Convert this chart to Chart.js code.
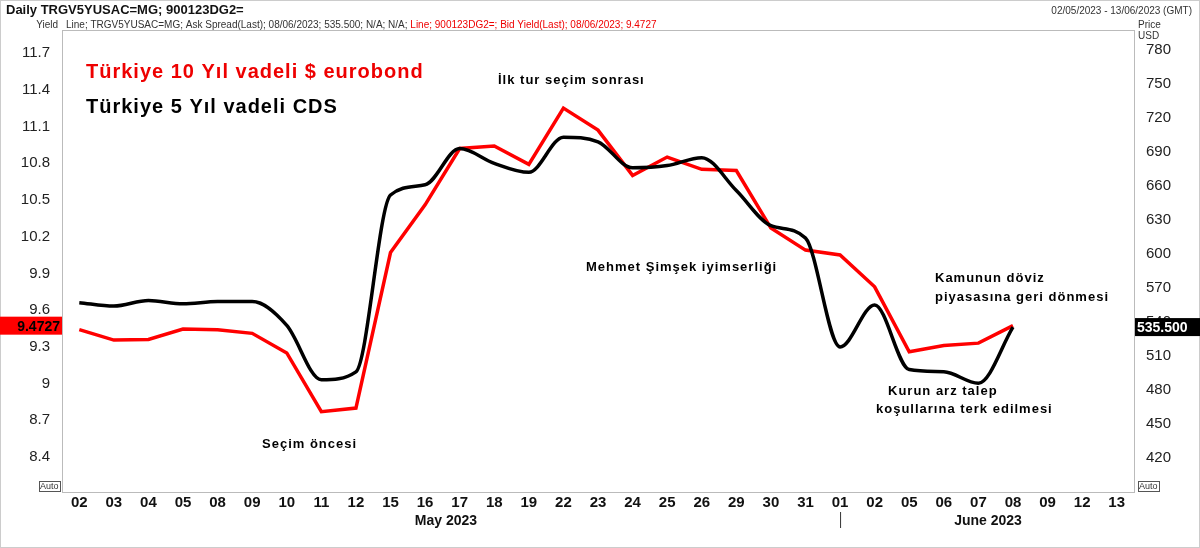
<!DOCTYPE html>
<html>
<head>
<meta charset="utf-8">
<script src="https://cdn.jsdelivr.net/npm/chart.js@4"></script>
<style>
  body { margin: 0; background: #fff; }
  #wrap { width: 1200px; height: 548px; position: relative; }
</style>
</head>
<body>
<div id="wrap"><canvas id="c" width="1200" height="548"></canvas></div>
<script>
const days = ['02','03','04','05','08','09','10','11','12','15','16','17','18','19','22','23','24','25','26','29','30','31',
              '01','02','05','06','07','08','09','12','13'];
const bondYield = [9.44,9.355,9.36,9.445,9.44,9.41,9.25,8.77,8.80,10.07,10.46,10.92,10.94,10.79,11.25,11.07,10.70,10.85,10.75,10.74,10.27,10.09,
                   10.05,9.79,9.26,9.31,9.33,9.4727,null,null,null];
const cdsSpread = [557,554,559,556,558,558,537,489,496,652,661,693,680,672,703,699,676,678,685,656,625,614,
                   518,555,498,496,486,535.5,null,null,null];
const yieldTicks = [8.4,8.7,9,9.3,9.6,9.9,10.2,10.5,10.8,11.1,11.4,11.7];
const priceTicks = [420,450,480,510,540,570,600,630,660,690,720,750,780];

const notes = [
  { text: 'İlk tur seçim sonrası', x: 498, y: 80 },
  { text: 'Mehmet Şimşek iyimserliği', x: 586, y: 267 },
  { text: 'Seçim öncesi', x: 262, y: 444 },
  { text: 'Kamunun döviz', x: 935, y: 278 },
  { text: 'piyasasına geri dönmesi', x: 935, y: 297 },
  { text: 'Kurun arz talep', x: 888, y: 391 },
  { text: 'koşullarına terk edilmesi', x: 876, y: 409 }
];

const overlay = {
  id: 'overlay',
  afterDraw(chart) {
    const ctx = chart.ctx, a = chart.chartArea;
    ctx.save();
    // frame
    ctx.strokeStyle = '#bbb'; ctx.lineWidth = 1;
    ctx.strokeRect(a.left + 0.5, a.top + 0.5, a.right - a.left, a.bottom - a.top);
    ctx.strokeStyle = '#ccc';
    ctx.strokeRect(0.5, 0.5, 1199, 547);
    // header
    ctx.fillStyle = '#111'; ctx.textBaseline = 'middle'; ctx.textAlign = 'left';
    ctx.font = 'bold 13px Arial, "Liberation Sans"';
    ctx.fillText('Daily TRGV5YUSAC=MG; 900123DG2=', 6, 10);
    ctx.font = '10px Arial, "Liberation Sans"';
    ctx.fillStyle = '#333';
    ctx.textAlign = 'right';
    ctx.fillText('02/05/2023 - 13/06/2023 (GMT)', 1192, 11);
    ctx.fillText('Yield', 58, 25);
    ctx.textAlign = 'left';
    const grey = 'Line; TRGV5YUSAC=MG; Ask Spread(Last); 08/06/2023; 535.500; N/A; N/A; ';
    ctx.fillText(grey, 66, 25);
    const w = ctx.measureText(grey).width;
    ctx.fillStyle = '#e00';
    ctx.fillText('Line; 900123DG2=; Bid Yield(Last); 08/06/2023; 9.4727', 66 + w, 25);
    ctx.fillStyle = '#333';
    ctx.fillText('Price', 1138, 25);
    ctx.fillText('USD', 1138, 36);
    // titles
    ctx.font = 'bold 20px Arial, "Liberation Sans"';
    if ('letterSpacing' in ctx) ctx.letterSpacing = '1px';
    ctx.fillStyle = '#e00';
    ctx.fillText('Türkiye 10 Yıl vadeli $ eurobond', 86, 72);
    ctx.fillStyle = '#000';
    ctx.fillText('Türkiye 5 Yıl vadeli CDS', 86, 107);
    // annotations
    ctx.font = 'bold 13px Arial, "Liberation Sans"';
    notes.forEach(n => ctx.fillText(n.text, n.x, n.y));
    if ('letterSpacing' in ctx) ctx.letterSpacing = '0px';
    // last value boxes
    const yl = chart.scales.y.getPixelForValue(9.4727);
    ctx.fillStyle = '#f00';
    ctx.fillRect(0, yl - 9, a.left, 18);
    ctx.fillStyle = '#000'; ctx.font = 'bold 14px Arial, "Liberation Sans"'; ctx.textAlign = 'right';
    ctx.fillText('9.4727', a.left - 2, yl + 1);
    const yr = chart.scales.y1.getPixelForValue(535.5);
    ctx.fillStyle = '#000';
    ctx.fillRect(a.right + 1, yr - 9, 66, 18);
    ctx.fillStyle = '#fff'; ctx.textAlign = 'left';
    ctx.fillText('535.500', a.right + 3, yr + 1);
    // Auto boxes
    ctx.font = '9px Arial, "Liberation Sans"'; ctx.fillStyle = '#333'; ctx.strokeStyle = '#555';
    ctx.strokeRect(39.5, 481.5, 21, 10); ctx.fillText('Auto', 40, 487);
    ctx.strokeRect(1138.5, 481.5, 21, 10); ctx.fillText('Auto', 1139, 487);
    // months
    ctx.font = 'bold 14px Arial, "Liberation Sans"'; ctx.fillStyle = '#111'; ctx.textAlign = 'center';
    ctx.fillText('May 2023', 446, 521);
    ctx.fillText('June 2023', 988, 521);
    const xs = chart.scales.x.getPixelForValue(22);
    ctx.strokeStyle = '#333';
    ctx.beginPath(); ctx.moveTo(xs + 0.5, 512); ctx.lineTo(xs + 0.5, 528); ctx.stroke();
    ctx.restore();
  }
};

new Chart(document.getElementById('c'), {
  type: 'line',
  data: {
    labels: days,
    datasets: [
      { label: 'CDS', data: cdsSpread, yAxisID: 'y1', borderColor: '#000', borderWidth: 3.5,
        pointRadius: 0, tension: 0.4, cubicInterpolationMode: 'monotone' },
      { label: 'Eurobond', data: bondYield, yAxisID: 'y', borderColor: '#f00', borderWidth: 3.5,
        pointRadius: 0, tension: 0 }
    ]
  },
  options: {
    responsive: false,
    animation: false,
    layout: { padding: { top: 30, left: 0, right: 0, bottom: 0 } },
    plugins: { legend: { display: false }, tooltip: { enabled: false } },
    scales: {
      x: {
        offset: true,
        grid: { display: false, drawTicks: false },
        border: { display: false },
        ticks: { color: '#111', font: { size: 15, weight: 'bold', family: 'Arial' }, maxRotation: 0, autoSkip: false, padding: 2 },
        afterFit(s) { s.height = 56; }
      },
      y: {
        position: 'left', min: 8.114, max: 11.888,
        grid: { display: false },
        border: { display: false },
        afterBuildTicks(s) { s.ticks = yieldTicks.map(v => ({ value: v })); },
        ticks: { color: '#222', font: { size: 15, family: 'Arial' }, padding: 4,
                 callback: v => v === 9 ? '9' : v.toFixed(1) },
        afterFit(s) { s.width = 62; }
      },
      y1: {
        position: 'right', min: 390, max: 797.6,
        grid: { display: false },
        border: { display: false },
        afterBuildTicks(s) { s.ticks = priceTicks.map(v => ({ value: v })); },
        ticks: { color: '#222', font: { size: 15, family: 'Arial' }, padding: 4 },
        afterFit(s) { s.width = 66; }
      }
    }
  },
  plugins: [overlay]
});
</script>
</body>
</html>
